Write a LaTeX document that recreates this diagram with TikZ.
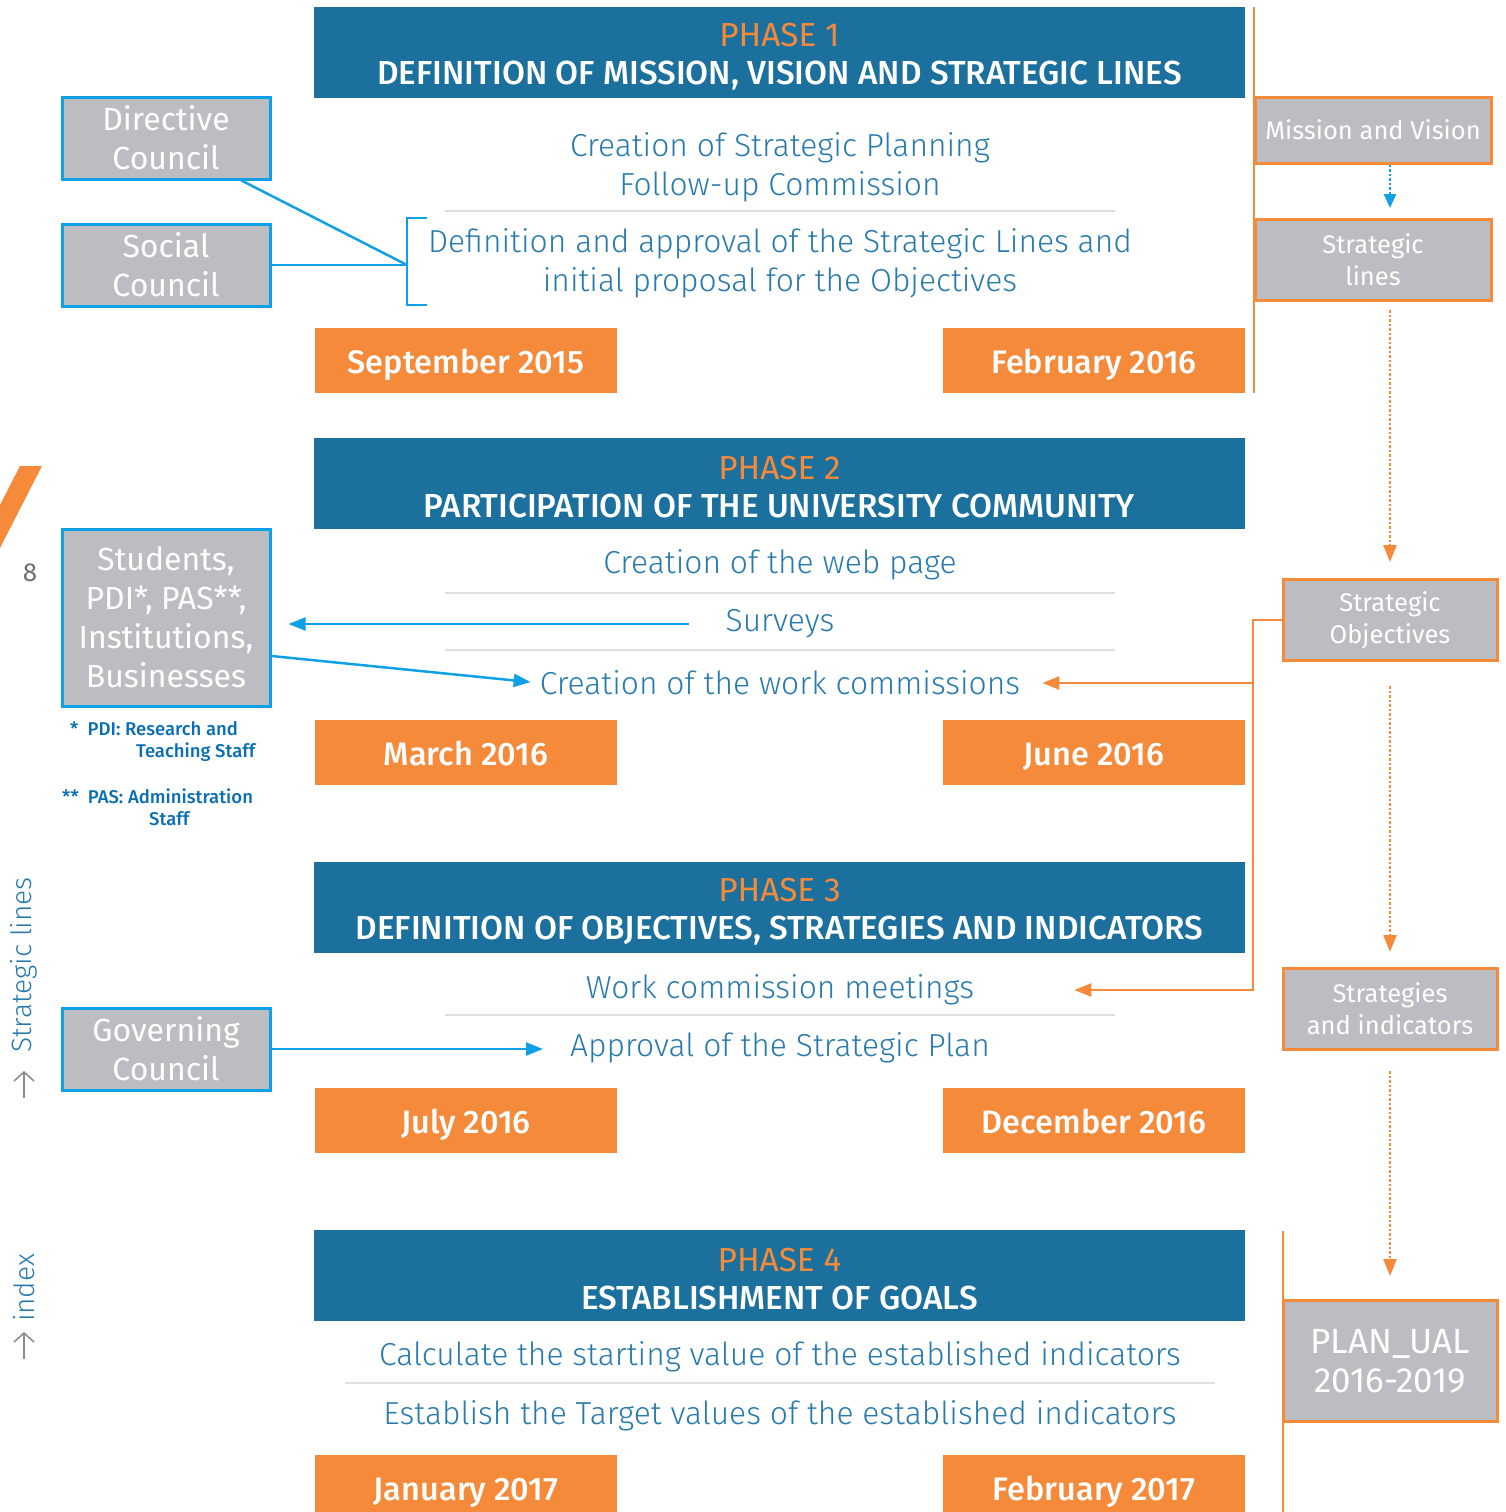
\documentclass[tikz,border=0pt]{standalone}
\usepackage{fontspec}
\setmainfont{Fira Sans}
\newfontfamily\ltf{Fira Sans Light}
\newfontfamily\mdf{Fira Sans Medium}
\newfontfamily\rgf{Fira Sans}
\usetikzlibrary{arrows.meta}
\definecolor{hblue}{RGB}{27,112,157}
\definecolor{orng}{RGB}{245,138,59}
\definecolor{gbox}{RGB}{188,189,192}
\definecolor{cblue}{RGB}{16,160,230}
\definecolor{tblue}{RGB}{40,122,172}
\definecolor{sepg}{RGB}{222,223,224}
\definecolor{fnblue}{RGB}{10,110,180}
\definecolor{numg}{RGB}{110,110,110}
\begin{document}
\begin{tikzpicture}[x=1pt,y=-1pt,
  hdr/.style={fill=hblue,minimum width=931pt,minimum height=91pt,inner sep=0pt},
  hdrtxt/.style={text=white,align=center,inner sep=0pt,font=\mdf\fontsize{33.3}{38}\selectfont},
  body/.style={text=tblue,align=center,inner sep=0pt,font=\ltf\fontsize{31.8}{39}\selectfont},
  datebox/.style={fill=orng,minimum width=302pt,minimum height=65pt,inner sep=0pt,text height=26pt,text depth=0pt,text=white,font=\mdf\fontsize{32.5}{36}\selectfont},
  lbox/.style={fill=gbox,draw=cblue,line width=3pt,minimum width=208pt,inner sep=0pt,text=white,align=center,font=\fontsize{32}{39}\selectfont},
  rbox/.style={fill=gbox,draw=orng,line width=3pt,inner sep=0pt,text=white,align=center,font=\fontsize{25.5}{32}\selectfont},
  sepline/.style={draw=sepg,line width=2.5pt},
  bcn/.style={draw=cblue,line width=2.5pt},
  ocn/.style={draw=orng,line width=2.5pt},
  btip/.style={-{Triangle[length=17pt,width=13pt]}},
  otip/.style={-{Triangle[length=17pt,width=13pt]}},
  fn/.style={text=fnblue,inner sep=0pt,anchor=west,font=\mdf\fontsize{18.5}{22}\selectfont},
  side/.style={rotate=90,text=tblue,inner sep=0pt,font=\ltf\fontsize{28}{32}\selectfont},
  sidearrow/.style={draw=numg!80,line width=1.5pt,-{Straight Barb[length=9pt,width=20pt]}}
]
\useasboundingbox (0,0) rectangle (1506,1512);

% ---------- left decorations
\fill[orng] (20,466) -- (42,466) -- (0,548) -- (0,505) -- cycle;
\node[text=numg,inner sep=0pt,font=\fontsize{26}{30}\selectfont] (pg) at (30,573) {8};
\node[side] (sidesl) at (24,965) {Strategic lines};
\draw[sidearrow] (24,1098) -- (24,1071);
\node[side] (sideix) at (24,1288) {index};
\draw[sidearrow] (24,1359) -- (24,1332);

% ---------- PHASE 1
\node[hdr] (h1) at (779.5,52.5) {};
\node[hdrtxt] (h1t) at ([yshift=-4pt]h1.center) {{\rgf\color{orng}PHASE 1}\\DEFINITION OF MISSION, VISION AND STRATEGIC LINES};
\node[body] (t11) at (780,167) {Creation of Strategic Planning\\Follow-up Commission};
\draw[sepline] (445,211) -- (1115,211);
\node[body] (t12) at (780,263) {Definition and approval of the Strategic Lines and\\initial proposal for the Objectives};
\node[datebox] (d11) at (466,360.5) {September 2015};
\node[datebox] (d12) at (1094,360.5) {February 2016};

\node[lbox,minimum height=82pt] (dc) at (166,138) {Directive\\Council};
\node[lbox,minimum height=82pt] (sc) at (166,265) {Social\\Council};
\draw[bcn] (427,218) -- (407,218) -- (407,305) -- (427,305);
\coordinate (br) at (407,265);
\draw[bcn] ([xshift=-30pt]dc.south east) -- (br);
\draw[bcn] (sc.east) -- (br);

% ---------- PHASE 2
\node[hdr] (h2) at (779.5,483.5) {};
\node[hdrtxt] (h2t) at ([yshift=-4pt]h2.center) {{\rgf\color{orng}PHASE 2}\\PARTICIPATION OF THE UNIVERSITY COMMUNITY};
\node[body] (t21) at (780,565) {Creation of the web page};
\draw[sepline] (445,593) -- (1115,593);
\node[body] (t22) at (780,624) {Surveys};
\draw[sepline] (445,650) -- (1115,650);
\node[body] (t23) at (780,683) {Creation of the work commissions};
\node[datebox] (d21) at (466,752.5) {March 2016};
\node[datebox] (d22) at (1094,752.5) {June 2016};

\node[lbox,minimum height=177pt] (st) at (166,617.5) {Students,\\PDI*, PAS**,\\Institutions,\\Businesses};
\node[fn] (fn1a) at (70,729) {*\ \ PDI: Research and};
\node[fn] (fn1b) at (136,752) {Teaching Staff};
\node[fn] (fn2a) at (62,796) {**\ \ PAS: Administration};
\node[fn] (fn2b) at (149,819) {Staff};

\draw[bcn,btip,shorten >=17pt] ([xshift=-36pt]t22.west) -- (st.east |- t22.west);
\draw[bcn,btip,shorten >=9pt] ([yshift=-38.5pt]st.east) -- (t23.west);

% ---------- PHASE 3
\node[hdr] (h3) at (779.5,907.5) {};
\node[hdrtxt] (h3t) at ([yshift=-4pt]h3.center) {{\rgf\color{orng}PHASE 3}\\DEFINITION OF OBJECTIVES, STRATEGIES AND INDICATORS};
\node[body] (t31) at (780,990) {Work commission meetings};
\draw[sepline] (445,1015) -- (1115,1015);
\node[body] (t32) at (780,1048) {Approval of the Strategic Plan};
\node[datebox] (d31) at (466,1120) {July 2016};
\node[datebox] (d32) at (1094,1120) {December 2016};

\node[lbox,minimum height=82pt] (gc) at (166,1049) {Governing\\Council};
\draw[bcn,btip,shorten >=27pt] (gc.east) -- (gc.east -| t32.west);

% ---------- PHASE 4
\node[hdr] (h4) at (779.5,1275) {};
\node[hdrtxt] (h4t) at ([yshift=-4pt]h4.center) {{\rgf\color{orng}PHASE 4}\\ESTABLISHMENT OF GOALS};
\node[body] (t41) at (780,1357) {Calculate the starting value of the established indicators};
\draw[sepline] (345,1383) -- (1215,1383);
\node[body] (t42) at (780,1416) {Establish the Target values of the established indicators};
\node[datebox] (d41) at (466,1487.5) {January 2017};
\node[datebox] (d42) at (1094,1487.5) {February 2017};

% ---------- right column
\draw[ocn] (1254,7) -- (1254,393);
\node[rbox,minimum width=236pt,minimum height=66pt] (mv) at (1373,130) {Mission and Vision};
\node[rbox,minimum width=236pt,minimum height=81pt] (sl) at (1373,260) {Strategic\\lines};
\node[rbox,minimum width=214pt,minimum height=81pt] (so) at (1390,620) {Strategic\\Objectives};
\node[rbox,minimum width=214pt,minimum height=81pt] (si) at (1390,1009) {Strategies\\and indicators};
\draw[ocn] (1283,1231) -- (1283,1512);
\node[rbox,minimum width=214pt,minimum height=121pt,font=\fontsize{35}{39}\selectfont] (pu) at (1390,1361) {PLAN\_UAL\\2016-2019};

\draw[draw=cblue,line width=2.5pt,dotted,-{Triangle[length=14pt,width=12pt]},shorten >=10pt] ([xshift=17pt]mv.south) -- ([xshift=17pt]sl.north);
\draw[draw=orng,line width=2.5pt,dotted,otip,shorten <=8pt,shorten >=16pt] ([xshift=17pt]sl.south) -- (so.north);
\draw[draw=orng,line width=2.5pt,dotted,otip,shorten <=24pt,shorten >=15pt] (so.south) -- (si.north);
\draw[draw=orng,line width=2.5pt,dotted,otip,shorten <=20pt,shorten >=23pt] (si.south) -- (pu.north);

\draw[ocn,otip,shorten >=22pt] (so.west) -- (1253,620) |- (t23.east);
\draw[ocn,otip,shorten >=100pt] (1253,683) |- (t31.east);
\end{tikzpicture}
\end{document}
